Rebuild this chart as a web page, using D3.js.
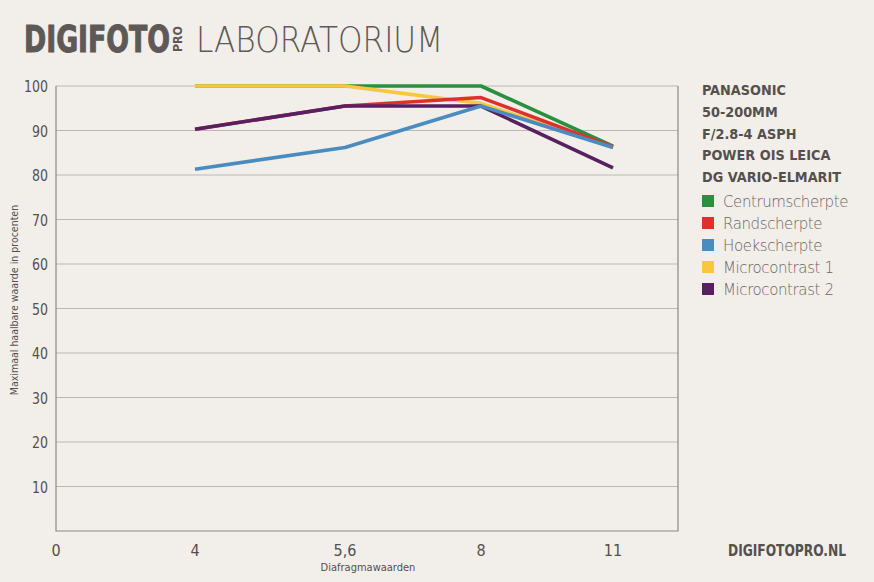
<!DOCTYPE html>
<html lang="nl">
<head>
    <meta charset="utf-8" />
    <title>Digifoto Pro Laboratorium</title>
    <script src="https://d3js.org/d3.v7.min.js"></script>
    <style>
        body { margin: 0; background: #f2eeea; }
        svg { display: block; }
        text { font-family: "DejaVu Sans Condensed", "Roboto", sans-serif; }
    </style>
</head>
<body>
    <svg></svg>
    <script>

        let width = 874, height = 582;

        // diafragma waarden (categorieen op de x-as)
        var apertures = ["0", "4", "5,6", "8", "11"];
        var yTicks = [10, 20, 30, 40, 50, 60, 70, 80, 90, 100];

        // waarden per f-stop (4, 5,6, 8, 11)
        var centrum = [100, 100, 100, 86.5];
        var rand = [90.3, 95.5, 97.4, 86.3];
        var hoek = [81.3, 86.2, 95.5, 86.2];
        var micro1 = [100, 100, 96.1, 86.2];
        var micro2 = [90.3, 95.5, 95.5, 81.6];

        var seriesNames = ["Centrumscherpte", "Randscherpte", "Hoekscherpte", "Microcontrast 1", "Microcontrast 2"];
        var seriesColors = ["#2a9040", "#e0302e", "#4a8cc0", "#f7c83e", "#582060"];
        var lensTitle = ["PANASONIC", "50-200MM", "F/2.8-4 ASPH", "POWER OIS LEICA", "DG VARIO-ELMARIT"];

        let svg = d3.select("svg")
            .attr("width", width)
            .attr("height", height)
            .attr("viewBox", "0 0 " + width + " " + height);

        svg.append("rect").attr("width", width).attr("height", height).attr("fill", "#f2eeea");

        let plot = { left: 56, right: 678, top: 86, bottom: 531 };

        // x-as: ongelijke afstanden zoals in het origineel
        var x = d3.scaleLinear()
            .domain([0, 1, 2, 3, 4])
            .range([plot.left, 195, 345, 481, 613]);

        var y = d3.scaleLinear()
            .domain([0, 100])
            .range([plot.bottom, plot.top]);

        // header
        var header = svg.append("g").attr("fill", "#5e5956");
        header.append("text")
            .attr("x", 24).attr("y", 52)
            .style("font-family", "'DejaVu Sans Condensed', sans-serif")
            .style("font-weight", "bold")
            .style("font-size", "37px")
            .style("stroke", "#5e5956")
            .style("stroke-width", "1px")
            .attr("textLength", 146)
            .attr("lengthAdjust", "spacingAndGlyphs")
            .text("DIGIFOTO");
        header.append("text")
            .attr("transform", "translate(182,52) rotate(-90)")
            .style("font-weight", "bold")
            .style("font-size", "12px")
            .attr("textLength", 26)
            .attr("lengthAdjust", "spacingAndGlyphs")
            .text("PRO");
        header.append("text")
            .attr("x", 196).attr("y", 52)
            .style("font-family", "'DejaVu Sans', sans-serif")
            .style("font-weight", "200")
            .style("font-size", "35px")
            .attr("textLength", 247)
            .attr("lengthAdjust", "spacingAndGlyphs")
            .text("LABORATORIUM");

        // gridlines
        svg.append("g")
            .selectAll("line")
            .data(yTicks)
            .enter()
            .append("line")
            .attr("x1", plot.left)
            .attr("x2", plot.right)
            .attr("y1", d => y(d))
            .attr("y2", d => y(d))
            .attr("stroke", "#bdb8b2")
            .attr("stroke-width", 1);

        // frame (links, onder, rechts)
        svg.append("path")
            .attr("d", "M" + plot.left + "," + plot.top + "V" + plot.bottom + "H" + plot.right + "V" + plot.top)
            .attr("fill", "none")
            .attr("stroke", "#8c8884")
            .attr("stroke-width", 1.2);

        // y labels
        svg.append("g")
            .selectAll("text")
            .data(yTicks)
            .enter()
            .append("text")
            .attr("x", 48)
            .attr("y", d => y(d) + 6)
            .attr("text-anchor", "end")
            .attr("fill", "#55504d")
            .style("font-size", "16px")
            .attr("textLength", d => d === 100 ? 24 : 16)
            .attr("lengthAdjust", "spacingAndGlyphs")
            .text(d => d);

        // x labels
        svg.append("g")
            .selectAll("text")
            .data(apertures)
            .enter()
            .append("text")
            .attr("x", (d, i) => x(i))
            .attr("y", 556)
            .attr("text-anchor", "middle")
            .attr("fill", "#55504d")
            .style("font-size", "16px")
            .text(d => d);

        svg.append("text")
            .attr("x", 368).attr("y", 571)
            .attr("text-anchor", "middle")
            .attr("fill", "#55504d")
            .style("font-size", "11px")
            .text("Diafragmawaarden");

        svg.append("text")
            .attr("transform", "translate(18,300) rotate(-90)")
            .attr("text-anchor", "middle")
            .attr("fill", "#55504d")
            .style("font-size", "10.5px")
            .text("Maximaal haalbare waarde in procenten");

        // lijnen
        var values = [centrum, rand, hoek, micro1, micro2];
        var drawOrder = [0, 3, 1, 4, 2];

        var line = d3.line()
            .x((d, i) => x(i + 1))
            .y(d => y(d));

        svg.append("g")
            .selectAll("path")
            .data(drawOrder)
            .enter()
            .append("path")
            .attr("d", k => line(values[k]))
            .attr("fill", "none")
            .attr("stroke", k => seriesColors[k])
            .attr("stroke-width", 3.6)
            .attr("stroke-linejoin", "round");

        // legenda titel
        svg.append("g")
            .selectAll("text")
            .data(lensTitle)
            .enter()
            .append("text")
            .attr("x", 702)
            .attr("y", (d, i) => 95 + i * 21.8)
            .attr("fill", "#55504d")
            .style("font-size", "14.3px")
            .style("font-weight", "bold")
            .text(d => d);

        var legend = svg.append("g")
            .selectAll("g")
            .data(seriesNames)
            .enter()
            .append("g")
            .attr("transform", (d, i) => "translate(702," + (201 + i * 22) + ")");

        legend.append("rect")
            .attr("x", 0).attr("y", -6)
            .attr("width", 12).attr("height", 12)
            .attr("fill", (d, i) => seriesColors[i]);

        legend.append("text")
            .attr("x", 21).attr("y", 6)
            .attr("fill", "#6a6562")
            .style("font-family", "'DejaVu Sans', sans-serif")
            .style("font-weight", "200")
            .style("font-size", "15px")
            .style("letter-spacing", "-0.4px")
            .text(d => d);

        svg.append("text")
            .attr("x", 846).attr("y", 556)
            .attr("text-anchor", "end")
            .attr("fill", "#55504d")
            .style("font-size", "16px")
            .style("font-weight", "bold")
            .attr("textLength", 118)
            .attr("lengthAdjust", "spacingAndGlyphs")
            .text("DIGIFOTOPRO.NL");

    </script>
</body>
</html>
